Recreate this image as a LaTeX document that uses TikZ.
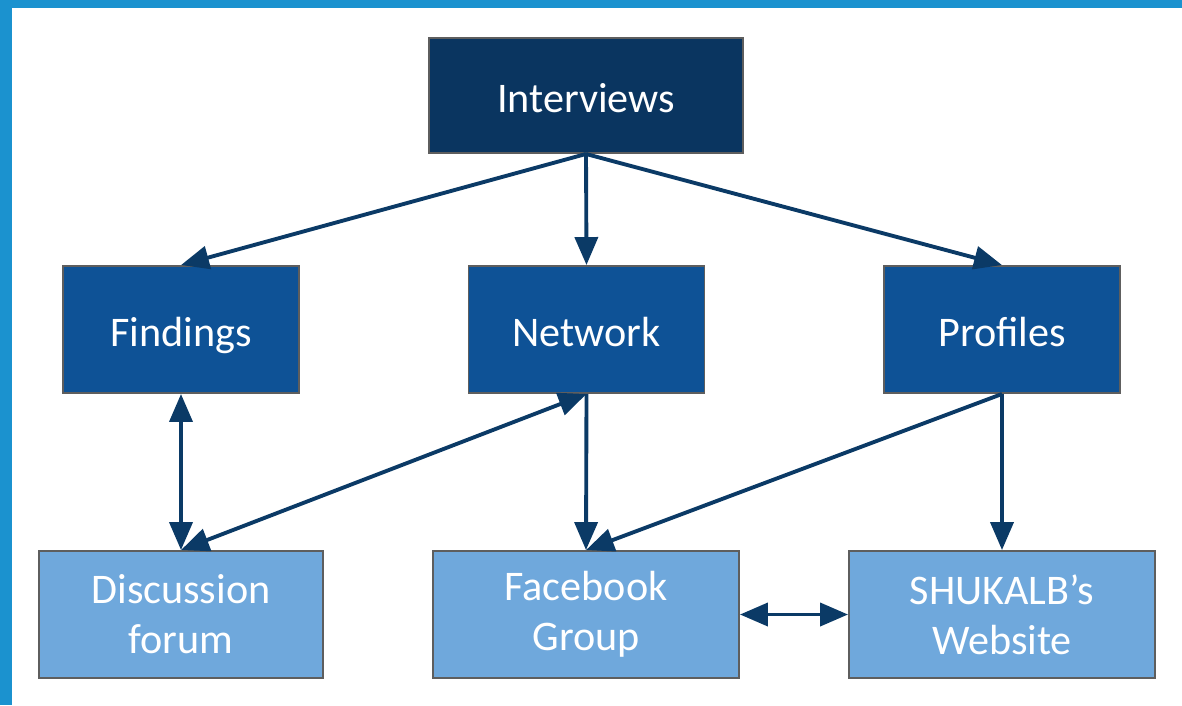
\documentclass[tikz,border=0pt]{standalone}
\usepackage{fontspec}
\setmainfont{Carlito}
\usetikzlibrary{arrows.meta}
\usetikzlibrary{positioning}

\definecolor{bandblue}{HTML}{1B92CF}
\definecolor{topblue}{HTML}{0A3560}
\definecolor{midblue}{HTML}{0E5296}
\definecolor{lowblue}{HTML}{6FA8DC}
\definecolor{linkblue}{HTML}{0B3A66}
\definecolor{boxgray}{HTML}{5E5E5E}

\begin{document}
\begin{tikzpicture}[
      >={Triangle[length=5.6mm, width=4.6mm]},
      box/.style = {
        draw = boxgray, line width = 1.1pt,
        text = white, align = center,
        font = {\fontsize{24}{28.5}\selectfont},
        minimum height = 2.54cm
      },
      oneline/.style = { text height = 0.86cm, text depth = 0.18cm },
      toprow/.style = { fill = topblue, oneline, minimum width = 6.28cm, minimum height = 2.30cm },
      midrow/.style = { fill = midblue, oneline, minimum width = 4.72cm },
      lowrow/.style = { fill = lowblue, minimum width = 6.12cm },
      link/.style = { linkblue, line width = 2.2pt },
    ]

    \useasboundingbox (0,0) rectangle (23.64,-14.1);

    %% frame band
    \fill[bandblue] (0,0) rectangle (23.64,-0.16);
    \fill[bandblue] (0,0) rectangle (0.24,-14.1);

    %% boxes
    \node[box, toprow] (interviews) at (11.72,-1.91) {Interviews};

    \node[box, midrow] (findings) at ( 3.62,-6.59) {Findings};
    \node[box, midrow] (network)  at (11.73,-6.59) {Network};
    \node[box, midrow] (profiles) at (20.04,-6.59) {Profiles};

    \node[box, lowrow, minimum width = 5.68cm] (forum) at ( 3.62,-12.29) {Discussion\\ forum};
    \node[box, lowrow] (facebook) at (11.72,-12.29) {Facebook\\ Group};
    \node[box, lowrow] (website)  at (20.04,-12.29) {SHUKALB’s\\ Website};

    %% links
    \foreach \d in {findings, network, profiles} {
      \draw[link, ->] (interviews.south) to (\d.north);
    }

    \draw[link, <->] (findings.south) to (forum.north);
    \draw[link, <->] (forum.north) to (network.south);
    \draw[link, ->] (network.south) to (facebook.north);
    \draw[link, ->] (profiles.south) to (facebook.north);
    \draw[link, ->] (profiles.south) to (website.north);
    \draw[link, <->] (facebook.east) to (website.west);
  \end{tikzpicture}
\end{document}
